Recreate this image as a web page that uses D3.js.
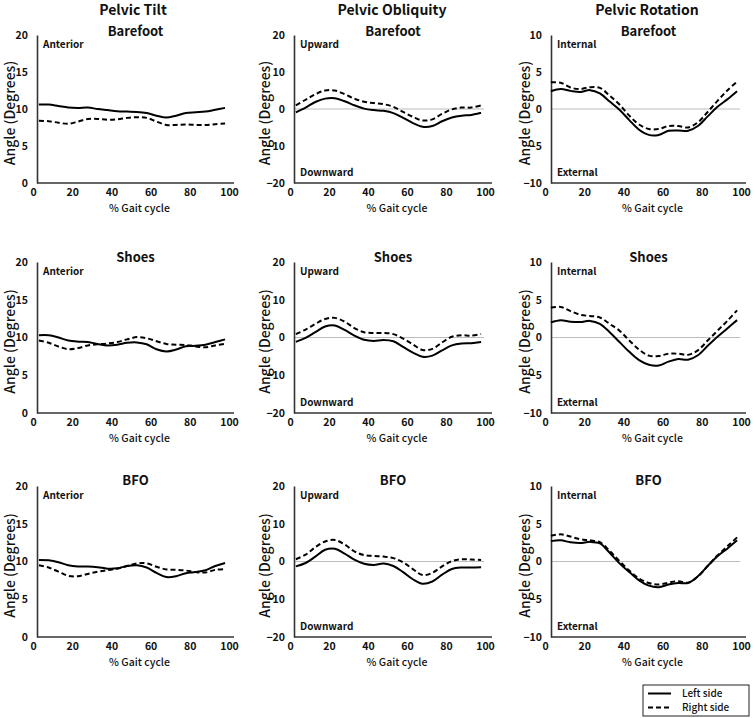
<!DOCTYPE html>
<html><head><meta charset="utf-8">
<script src="https://cdn.jsdelivr.net/npm/d3@7/dist/d3.min.js"></script>
<style>
body{margin:0;background:#fff;}
svg{display:block;font-family:"Noto Sans CJK KR","Noto Sans",sans-serif;}
</style></head>
<body><svg id="chart" width="756" height="718"></svg>
<script>
// ---- data ----
const columnTitles = ["Pelvic Tilt", "Pelvic Obliquity", "Pelvic Rotation"];
const conditions = ["Barefoot", "Shoes", "BFO"];
const seriesNames = ["Left side", "Right side"];
const gaitPct = [3,8,13,18,23,28,33,38,43,48,53,58,63,68,73,78,83,88,93,98];
const xTicks = [0,20,40,60,80,100];
const yTicksTilt = [0,5,10,15,20];
const yTicksObliquity = [-20,-10,0,10,20];
const yTicksRotation = [-10,-5,0,5,10];
const cornerTop = ["Anterior","Upward","Internal"];
const cornerBottom = [null,"Downward","External"];

const tiltBarefootLeft  = [10.6,10.6,10.4,10.2,10.15,10.2,10.0,9.85,9.7,9.65,9.6,9.45,9.1,8.85,9.1,9.45,9.55,9.65,9.9,10.15];
const tiltBarefootRight = [8.4,8.35,8.15,8.0,8.3,8.65,8.65,8.55,8.6,8.8,8.9,8.8,8.3,7.85,7.85,7.9,7.85,7.85,7.95,8.05];
const tiltShoesLeft     = [10.3,10.3,10.0,9.6,9.45,9.4,9.15,8.95,9.05,9.3,9.35,9.1,8.45,8.15,8.4,8.85,8.9,9.05,9.4,9.75];
const tiltShoesRight    = [9.6,9.3,8.8,8.45,8.6,8.95,9.1,9.2,9.4,9.75,10.05,9.9,9.5,9.15,9.05,9.0,8.8,8.7,8.95,9.15];
const tiltBfoLeft       = [10.2,10.15,9.9,9.5,9.35,9.35,9.25,9.05,9.1,9.4,9.5,9.2,8.5,7.95,8.05,8.45,8.6,8.85,9.4,9.8];
const tiltBfoRight      = [9.5,9.2,8.65,8.1,8.05,8.35,8.65,8.85,9.05,9.4,9.75,9.75,9.3,8.95,8.9,8.8,8.6,8.55,8.9,9.0];

const obliqBarefootLeft  = [-0.9,0.4,1.9,2.8,2.9,2.1,1.0,0.1,-0.3,-0.5,-1.1,-2.4,-3.8,-4.8,-4.6,-3.3,-2.3,-1.8,-1.6,-1.0];
const obliqBarefootRight = [1.0,2.5,4.0,5.0,5.0,4.0,2.8,1.95,1.6,1.3,0.6,-0.8,-2.1,-3.1,-2.8,-1.3,-0.1,0.4,0.4,1.0];
const obliqShoesLeft     = [-1.15,-0.1,1.4,2.9,3.2,2.0,0.5,-0.6,-0.9,-0.65,-1.0,-2.5,-4.0,-5.1,-4.8,-3.4,-2.1,-1.6,-1.5,-1.2];
const obliqShoesRight    = [0.9,2.1,3.6,4.9,5.2,4.2,2.5,1.4,1.2,1.2,0.9,-0.3,-1.8,-3.3,-3.0,-1.3,0.2,0.6,0.5,0.9];
const obliqBfoLeft       = [-1.3,-0.4,1.3,3.1,3.4,2.1,0.5,-0.6,-0.9,-0.55,-1.2,-2.8,-4.7,-5.9,-5.3,-3.5,-2.0,-1.6,-1.6,-1.5];
const obliqBfoRight      = [0.6,1.8,3.8,5.3,5.7,4.5,2.7,1.7,1.45,1.3,0.9,-0.2,-2.0,-3.6,-3.0,-1.3,0.1,0.6,0.5,0.4];

const rotBarefootLeft  = [2.4,2.7,2.45,2.3,2.55,2.1,1.0,-0.1,-1.5,-2.8,-3.5,-3.5,-2.95,-2.9,-2.95,-2.3,-1.0,0.3,1.3,2.4];
const rotBarefootRight = [3.6,3.55,2.9,2.7,2.95,2.85,1.8,0.6,-0.9,-2.1,-2.7,-2.7,-2.3,-2.3,-2.5,-1.8,-0.4,1.1,2.5,3.7];
const rotShoesLeft     = [2.0,2.3,2.1,2.05,2.2,1.8,0.7,-0.6,-1.9,-3.0,-3.6,-3.7,-3.2,-2.85,-2.95,-2.35,-1.1,0.1,1.2,2.3];
const rotShoesRight    = [3.95,4.05,3.5,3.0,2.85,2.65,1.8,0.9,-0.4,-1.6,-2.4,-2.45,-2.15,-2.15,-2.3,-1.7,-0.4,0.9,2.2,3.6];
const rotBfoLeft       = [2.7,2.8,2.55,2.45,2.6,2.4,1.15,-0.25,-1.4,-2.5,-3.2,-3.4,-3.05,-2.85,-2.85,-1.95,-0.6,0.7,1.7,2.8];
const rotBfoRight      = [3.4,3.6,3.3,2.95,2.8,2.55,1.4,0.05,-1.2,-2.25,-2.85,-3.05,-2.8,-2.6,-2.8,-2.0,-0.6,0.8,2.0,3.2];

// ---- layout (positions only) ----
const colLayout = [
  {x0:33, x100:229, axisX:37, axisEnd:234, labelX:10},
  {x0:290, x100:485, axisX:294, axisEnd:492, labelX:265},
  {x0:545, x100:741, axisX:551, axisEnd:746, labelX:525}
];
const rowLayout = [{top:35, bottom:183, sub:31},{top:262, bottom:413, sub:257},{top:486, bottom:637, sub:480}];
const colHeadX = [133, 392, 647];

const panelData = [
  [[tiltBarefootLeft,tiltBarefootRight],[obliqBarefootLeft,obliqBarefootRight],[rotBarefootLeft,rotBarefootRight]],
  [[tiltShoesLeft,tiltShoesRight],[obliqShoesLeft,obliqShoesRight],[rotShoesLeft,rotShoesRight]],
  [[tiltBfoLeft,tiltBfoRight],[obliqBfoLeft,obliqBfoRight],[rotBfoLeft,rotBfoRight]]
];
const yTickSets = [yTicksTilt, yTicksObliquity, yTicksRotation];

const svg = d3.select("#chart");
const FONT = '"Noto Sans CJK KR","Noto Sans",sans-serif';

columnTitles.forEach((t,c)=>{
  svg.append("text").attr("x",colHeadX[c]).attr("y",10).attr("dy","0.35em")
    .attr("text-anchor","middle").attr("font-size",14).attr("font-weight",700).attr("fill","#111").text(t);
});

const dashes = [null, "5,3"];

rowLayout.forEach((R,r)=>{
  colLayout.forEach((C,c)=>{
    const ticks = yTickSets[c];
    const x = d3.scaleLinear().domain([0,100]).range([C.x0, C.x100]);
    const y = d3.scaleLinear().domain([ticks[0], ticks[ticks.length-1]]).range([R.bottom, R.top]);
    const g = svg.append("g");

    if (ticks[0] < 0) {
      g.append("line").attr("x1",C.axisX).attr("x2",x(99.5)).attr("y1",y(0)).attr("y2",y(0))
        .attr("stroke","#bdbdbd").attr("stroke-width",1.2);
    }

    const ya = g.append("g").attr("transform",`translate(${C.axisX},0)`)
      .call(d3.axisLeft(y).tickValues(ticks).tickSize(0).tickPadding(9).tickFormat(d3.format("d")));
    ya.select(".domain").attr("stroke","#333").attr("stroke-width",1.6);
    ya.selectAll("text").attr("font-family",FONT).attr("font-size",10.5).attr("font-weight",700).attr("fill","#111");

    const xa = g.append("g").attr("transform",`translate(0,${R.bottom})`)
      .call(d3.axisBottom(x).tickValues(xTicks).tickSize(0).tickPadding(6));
    xa.select(".domain").remove();
    xa.selectAll("text").attr("font-family",FONT).attr("font-size",10.5).attr("font-weight",700).attr("fill","#111");
    g.append("line").attr("x1",C.axisX).attr("x2",C.axisEnd).attr("y1",R.bottom).attr("y2",R.bottom)
      .attr("stroke","#333").attr("stroke-width",1.6);

    g.append("text").attr("x",(C.axisX+C.axisEnd)/2).attr("y",R.sub).attr("dy","0.35em")
      .attr("text-anchor","middle").attr("font-size",13).attr("font-weight",700).attr("fill","#111").text(conditions[r]);
    g.append("text").attr("x",(C.axisX+C.axisEnd)/2+4).attr("y",R.bottom+25).attr("dy","0.35em")
      .attr("text-anchor","middle").attr("font-size",10.5).attr("font-weight",500).attr("fill","#111").text("% Gait cycle");
    g.append("text").attr("transform",`translate(${C.labelX},${(R.top+R.bottom)/2+4}) rotate(-90)`).attr("dy","0.35em")
      .attr("text-anchor","middle").attr("font-size",14).attr("font-weight",500).attr("fill","#111").text("Angle (Degrees)");
    g.append("text").attr("x",C.axisX+6).attr("y",R.top+9).attr("dy","0.35em")
      .attr("font-size",10).attr("font-weight",700).attr("fill","#111").text(cornerTop[c]);
    if (cornerBottom[c]) {
      g.append("text").attr("x",C.axisX+6).attr("y",R.bottom-11).attr("dy","0.35em")
        .attr("font-size",10).attr("font-weight",700).attr("fill","#111").text(cornerBottom[c]);
    }

    const line = d3.line().x((d,i)=>x(gaitPct[i])).y(d=>y(d)).curve(d3.curveCatmullRom.alpha(0.5));
    panelData[r][c].forEach((vals,s)=>{
      g.append("path").datum(vals).attr("d",line).attr("fill","none").attr("stroke","#000")
        .attr("stroke-width",2).attr("stroke-dasharray",dashes[s]);
    });
  });
});

// legend
const lg = svg.append("g");
lg.append("rect").attr("x",643).attr("y",685).attr("width",106).attr("height",31)
  .attr("fill","#fff").attr("stroke","#222").attr("stroke-width",1);
seriesNames.forEach((n,s)=>{
  const yy = 693.5 + s*14;
  lg.append("line").attr("x1",648).attr("x2",671).attr("y1",yy).attr("y2",yy)
    .attr("stroke","#000").attr("stroke-width",2).attr("stroke-dasharray",dashes[s]);
  lg.append("text").attr("x",682).attr("y",yy).attr("dy","0.35em").attr("font-size",10)
    .attr("font-weight",500).attr("fill","#111").text(n);
});
</script></body></html>
